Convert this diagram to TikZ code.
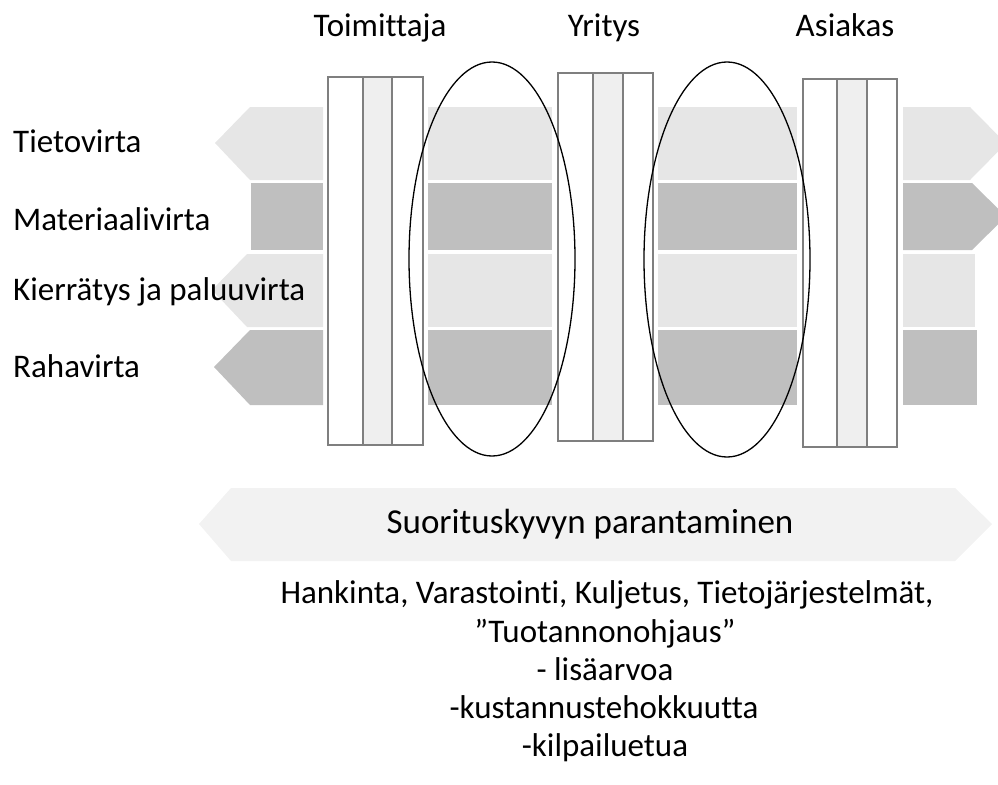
\documentclass[tikz,border=0pt]{standalone}
\usepackage{fontspec}
\setmainfont{Carlito}[Ligatures={NoCommon}]
\definecolor{bandlight}{HTML}{E6E6E6}
\definecolor{banddark}{HTML}{BFBFBF}
\definecolor{strip}{HTML}{EFEFEF}
\definecolor{boxline}{HTML}{7F7F7F}
\definecolor{perf}{HTML}{F2F2F2}
\tikzset{
  light/.style={fill=bandlight,draw=none},
  dark/.style={fill=banddark,draw=none},
  actorbox/.style={draw=boxline,line width=1.3pt,fill=white},
  actorstrip/.style={draw=boxline,line width=1.3pt,fill=strip},
  ring/.style={draw=black,line width=1.3pt},
  lbl/.style={font=\fontsize{33}{38}\selectfont,inner sep=0pt,anchor=base west},
  hdr/.style={font=\fontsize{33}{38}\selectfont,inner sep=0pt,anchor=base},
  txt/.style={font=\fontsize{33}{38}\selectfont,inner sep=0pt,anchor=base},
}
\begin{document}
\begin{tikzpicture}[x=1pt,y=-1pt]
\useasboundingbox (0,0) rectangle (998,784);
\clip (0,0) rectangle (998,784);
% left band segments
\fill[light] (215,143) -- (250,107) -- (323,107) -- (323,180) -- (250,180) -- cycle;
\fill[dark] (251,183) rectangle (323,250);
\fill[light] (212,290) -- (247,254) -- (323,254) -- (323,327) -- (247,327) -- cycle;
\fill[dark] (214,367) -- (250,330) -- (323,330) -- (323,405) -- (250,405) -- cycle;
% middle band segments 1
\fill[light] (428,107) rectangle (552,180);
\fill[dark] (428,183) rectangle (552,250);
\fill[light] (428,254) rectangle (552,327);
\fill[dark] (428,330) rectangle (552,405);
% middle band segments 2
\fill[light] (658,107) rectangle (797,180);
\fill[dark] (658,183) rectangle (797,250);
\fill[light] (658,254) rectangle (797,327);
\fill[dark] (658,330) rectangle (797,405);
% right band segments
\fill[light] (903,107) -- (970,107) -- (1006,143.5) -- (970,180) -- (903,180) -- cycle;
\fill[dark] (903,183) -- (972,183) -- (1006,216.5) -- (972,250) -- (903,250) -- cycle;
\fill[light] (903,254) rectangle (975,327);
\fill[dark] (903,330) rectangle (977,405);
% actor boxes
\draw[actorbox] (328,77) rectangle (423,445);
\draw[actorstrip] (363,77) rectangle (392,445);
\draw[actorbox] (558,73) rectangle (653,441);
\draw[actorstrip] (593,73) rectangle (623,441);
\draw[actorbox] (803,79) rectangle (897,447);
\draw[actorstrip] (837,79) rectangle (867,447);
% ellipses
\draw[ring] (492,259) ellipse [x radius=83, y radius=197];
\draw[ring] (727,259.5) ellipse [x radius=83, y radius=197.5];
% headers
\node[hdr] (toim) at (380,37) {Toimittaja};
\node[hdr] (yrit) at (604,37) {Yritys};
\node[hdr] (asia) at (845,37) {Asiakas};
% labels
\node[lbl] (tieto) at (13,152) {Tietovirta};
\node[lbl] (mater) at (13,230) {Materiaalivirta};
\node[lbl] (kierr) at (13,300) {Kierrätys ja paluuvirta};
\node[lbl] (raha) at (13,377) {Rahavirta};
% performance arrow
\fill[perf] (199,524) -- (231,488) -- (955,488) -- (992,524) -- (955,561) -- (231,561) -- cycle;
\node[txt,font=\fontsize{35}{40}\selectfont] (suor) at (590,533) {Suorituskyvyn parantaminen};
% bottom text
\node[txt] (l1) at (607,603) {Hankinta, Varastointi, Kuljetus, Tietojärjestelmät,};
\node[txt] (l2) at (605,642) {”Tuotannonohjaus”};
\node[txt] (l3) at (605,680) {- lisäarvoa};
\node[txt] (l4) at (604,718) {-kustannustehokkuutta};
\node[txt] (l5) at (605,756) {-kilpailuetua};
\end{tikzpicture}
\end{document}
